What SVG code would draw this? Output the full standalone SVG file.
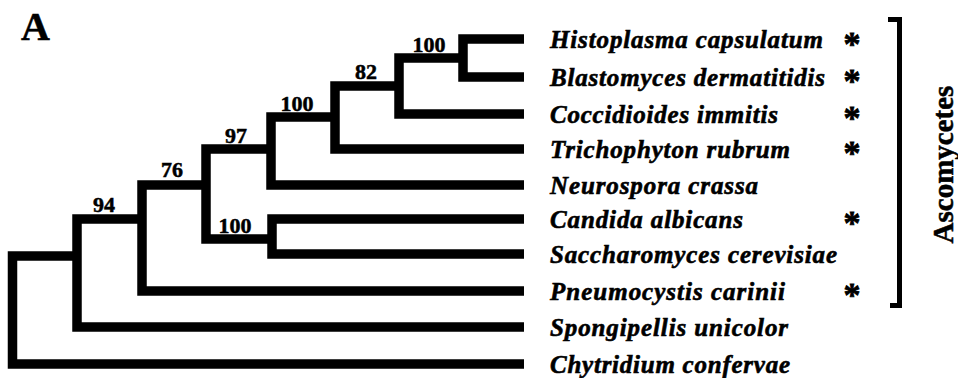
<svg xmlns="http://www.w3.org/2000/svg" width="958" height="378" viewBox="0 0 958 378">
<style>
.br{fill:none;stroke:#000;stroke-width:9.5;stroke-linejoin:miter;stroke-linecap:butt}
.bs{font-family:"Liberation Serif","Times New Roman",serif;font-weight:bold;font-size:22px;fill:#000;stroke:#000;stroke-width:0.5;text-anchor:middle}
.tx{font-family:"Liberation Serif","Times New Roman",serif;font-weight:bold;font-style:italic;font-size:25px;fill:#000;stroke:#000;stroke-width:0.6}
.ast{font-family:"Liberation Serif","Times New Roman",serif;font-weight:bold;font-size:34px;fill:#000;stroke:#000;stroke-width:0.8;text-anchor:middle}
.big{font-family:"Liberation Serif","Times New Roman",serif;font-weight:bold;fill:#000;stroke:#000;stroke-width:0.5}
</style>
<rect width="958" height="378" fill="#fff"/>
<text class="big" x="21" y="40" font-size="40">A</text>
<g id="connectors">
<path class="br" d="M77,256 H12.5 V364 H524"/>
<path class="br" d="M142,219 H77 V327 H524"/>
<path class="br" d="M206,185 H142 V291 H524"/>
<path class="br" d="M271,149 H206 V239 H272"/>
<path class="br" d="M335,117 H271 V185 H524"/>
<path class="br" d="M524,219 H272 V254 H524"/>
<path class="br" d="M399,86 H335 V149 H524"/>
<path class="br" d="M463,58 H399 V114 H524"/>
<path class="br" d="M524,39 H463 V77 H524"/>
</g>
<g id="bootstrap">
<text class="bs" x="429" y="52">100</text>
<text class="bs" x="366" y="79">82</text>
<text class="bs" x="297" y="111">100</text>
<text class="bs" x="236" y="143">97</text>
<text class="bs" x="172" y="177">76</text>
<text class="bs" x="104" y="212">94</text>
<text class="bs" x="235" y="233">100</text>
</g>
<g id="histoplasma"><text class="tx" x="550" y="47.5" textLength="273" lengthAdjust="spacing">Histoplasma capsulatum</text><text class="ast" x="852" y="55">*</text></g>
<g id="blastomyces"><text class="tx" x="550" y="85.5" textLength="275" lengthAdjust="spacing">Blastomyces dermatitidis</text><text class="ast" x="852" y="92">*</text></g>
<g id="coccidioides"><text class="tx" x="550" y="122.5" textLength="228" lengthAdjust="spacing">Coccidioides immitis</text><text class="ast" x="852" y="129">*</text></g>
<g id="trichophyton"><text class="tx" x="550" y="157.5" textLength="240" lengthAdjust="spacing">Trichophyton rubrum</text><text class="ast" x="852" y="164">*</text></g>
<g id="neurospora"><text class="tx" x="550" y="193.5" textLength="208" lengthAdjust="spacing">Neurospora crassa</text></g>
<g id="candida"><text class="tx" x="550" y="227.5" textLength="193" lengthAdjust="spacing">Candida albicans</text><text class="ast" x="852" y="234">*</text></g>
<g id="saccharomyces"><text class="tx" x="550" y="262.5" textLength="287" lengthAdjust="spacing">Saccharomyces cerevisiae</text></g>
<g id="pneumocystis"><text class="tx" x="550" y="299.5" textLength="235" lengthAdjust="spacing">Pneumocystis carinii</text><text class="ast" x="852" y="306">*</text></g>
<g id="spongipellis"><text class="tx" x="550" y="335.5" textLength="238" lengthAdjust="spacing">Spongipellis unicolor</text></g>
<g id="chytridium"><text class="tx" x="550" y="372.5" textLength="240" lengthAdjust="spacing">Chytridium confervae</text></g>
<g id="ascomycetes">
<path d="M888,19.5 H899.5 V305.5 H890" fill="none" stroke="#000" stroke-width="5"/>
<text class="big" font-size="29" text-anchor="middle" transform="translate(953,164.5) rotate(-90)">Ascomycetes</text>
</g>
</svg>
